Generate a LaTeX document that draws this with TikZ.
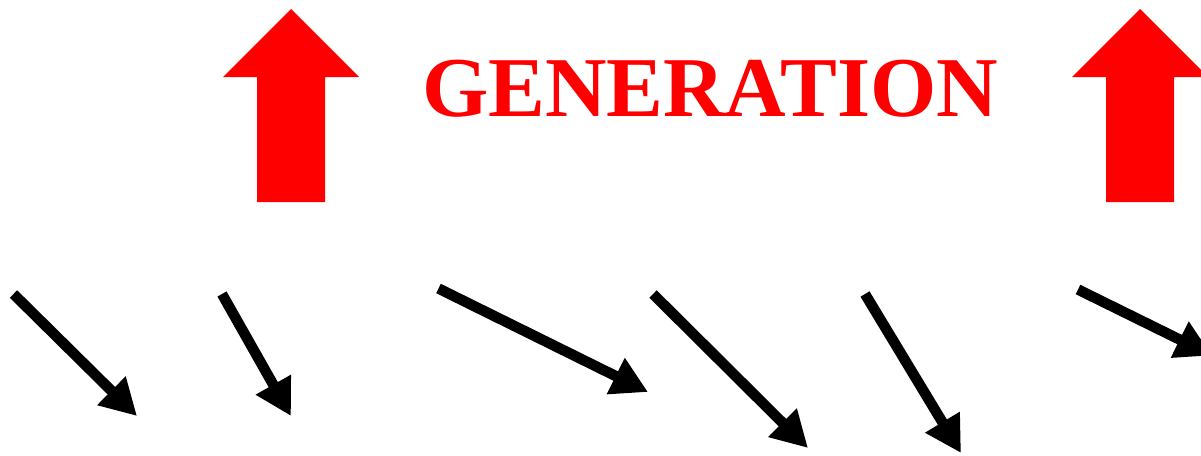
\documentclass[tikz,border=0pt]{standalone}
\usepackage{fontspec}
\setmainfont{Liberation Serif}
\usetikzlibrary{arrows.meta}
\definecolor{genred}{RGB}{255,0,0}
\begin{document}
\begin{tikzpicture}[x=1pt,y=-1pt,
  blackarrow/.style={draw=black,line width=10.5pt,-{Triangle[length=36pt,width=38pt]}},
  uparrow/.style={fill=genred,draw=none},
  gentext/.style={text=genred,font=\fontsize{85.2}{90}\selectfont\bfseries,inner sep=0pt}]
\useasboundingbox (0,0) rectangle (1201,455);
% red up arrows
\fill[uparrow] (257,202) -- (257,77) -- (223,77) -- (291,9) -- (359,77) -- (325,77) -- (325,202) -- cycle;
\fill[uparrow] (1106,202) -- (1106,77) -- (1072,77) -- (1140,9) -- (1208,77) -- (1174,77) -- (1174,202) -- cycle;
% title
\node[gentext,anchor=base] (title) at (710,116) {GENERATION};
% black arrow end points
\coordinate (s1) at (13.5,294);  \coordinate (e1) at (137,416);
\coordinate (s2) at (222,294);   \coordinate (e2) at (291,416);
\coordinate (s3) at (438.5,288.5); \coordinate (e3) at (648,392);
\coordinate (s4) at (653,294);   \coordinate (e4) at (808,448);
\coordinate (s5) at (865,294);   \coordinate (e5) at (961,453);
\coordinate (s6) at (1078,289.5); \coordinate (e6) at (1212,355.5);
\draw[blackarrow] (s1) -- (e1);
\draw[blackarrow] (s2) -- (e2);
\draw[blackarrow] (s3) -- (e3);
\draw[blackarrow] (s4) -- (e4);
\draw[blackarrow] (s5) -- (e5);
\draw[blackarrow] (s6) -- (e6);
\end{tikzpicture}
\end{document}
